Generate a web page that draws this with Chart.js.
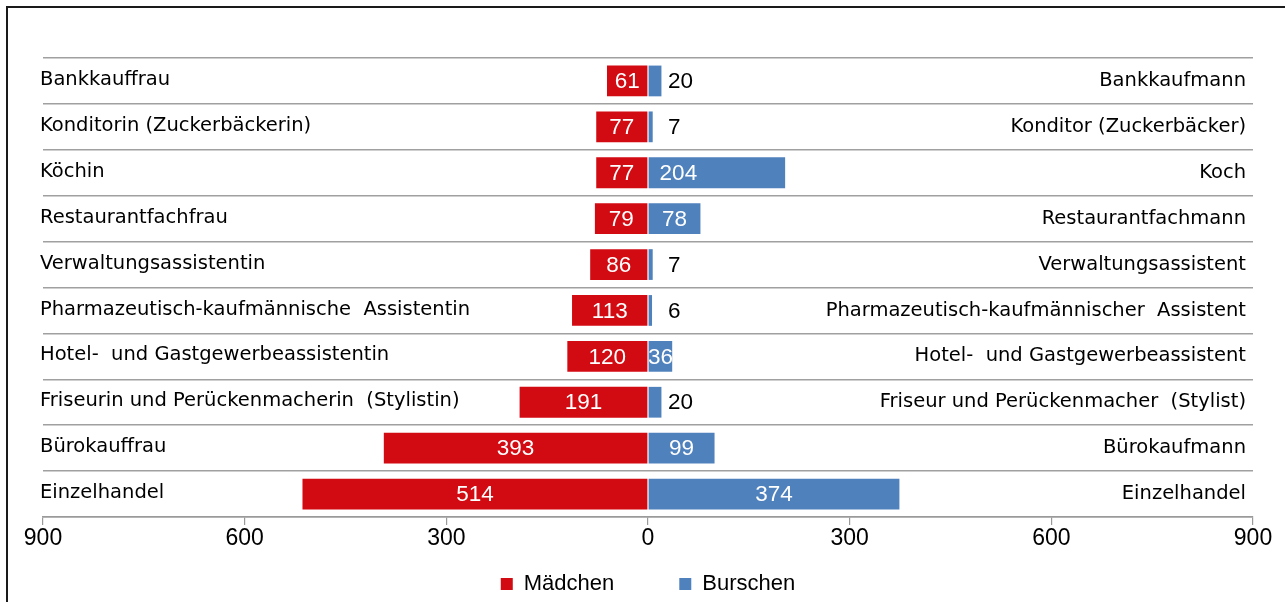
<!DOCTYPE html>
<html><head><meta charset="utf-8">
<script src="https://cdn.jsdelivr.net/npm/chart.js@4.4.0/dist/chart.umd.min.js"></script>
<style>
html,body{margin:0;padding:0;background:#fff;}
#wrap{position:relative;width:1285px;height:602px;overflow:hidden;}
#frame{position:absolute;left:6px;top:6px;width:1300px;height:620px;border-left:2px solid #1a1a1a;border-top:2px solid #1a1a1a;pointer-events:none;}
</style>
</head><body>
<div id="wrap"><canvas id="c" width="1285" height="602"></canvas><div id="frame"></div></div>
<script>
const femaleLabels = ['Bankkauffrau','Konditorin (Zuckerbäckerin)','Köchin','Restaurantfachfrau','Verwaltungsassistentin','Pharmazeutisch-kaufmännische  Assistentin','Hotel-  und Gastgewerbeassistentin','Friseurin und Perückenmacherin  (Stylistin)','Bürokauffrau','Einzelhandel'];
const maleLabels = ['Bankkaufmann','Konditor (Zuckerbäcker)','Koch','Restaurantfachmann','Verwaltungsassistent','Pharmazeutisch-kaufmännischer  Assistent','Hotel-  und Gastgewerbeassistent','Friseur und Perückenmacher  (Stylist)','Bürokaufmann','Einzelhandel'];
const femaleValues = [61,77,77,79,86,113,120,191,393,514];
const maleValues = [20,7,204,78,7,6,36,20,99,374];
const tickValues = [-900,-600,-300,0,300,600,900];
const seriesNames = ['Mädchen','Burschen'];
const seriesColors = ['#d20a12','#4f81bd'];

Chart.defaults.color = '#000';
const labelFont = "19.5px 'DejaVu Sans'";
const numFont = "22.5px 'Liberation Sans'";

const sideLabels = {
  id:'sideLabels',
  afterDatasetsDraw(chart){
    const ctx = chart.ctx, y = chart.scales.y;
    ctx.save();
    ctx.font = labelFont; ctx.fillStyle = '#000'; ctx.textBaseline = 'middle';
    femaleLabels.forEach((t,i)=>{
      const py = y.getPixelForValue(i);
      ctx.textAlign='left'; ctx.fillText(t, 40, py - 1);
      ctx.textAlign='right'; ctx.fillText(maleLabels[i], 1246, py);
    });
    const x0 = chart.scales.x.getPixelForValue(0);
    ctx.font = numFont;
    chart.data.datasets.forEach((ds,di)=>{
      const meta = chart.getDatasetMeta(di);
      meta.data.forEach((bar,j)=>{
        const v = Math.abs(ds.data[j]);
        const left = Math.min(bar.x, bar.base), right = Math.max(bar.x, bar.base);
        if (v < 30) {
          ctx.fillStyle = '#000'; ctx.textAlign = 'left';
          ctx.fillText(String(v), Math.max(right + 4, x0 + 20), bar.y + 1);
        } else {
          ctx.fillStyle = '#fff';
          if (di === 1 && v > 150 && v < 300) {
            ctx.textAlign = 'left'; ctx.fillText(String(v), left + 11, bar.y + 1);
          } else {
            ctx.textAlign = 'center'; ctx.fillText(String(v), (left+right)/2, bar.y + 1);
          }
        }
      });
    });
    ctx.restore();
  }
};

new Chart(document.getElementById('c'), {
  type:'bar',
  data:{
    labels: femaleLabels,
    datasets:[
      {label: seriesNames[0], data: femaleValues.map(v=>-v), backgroundColor: seriesColors[0], borderWidth:0, categoryPercentage:1, barPercentage:0.67},
      {label: seriesNames[1], data: maleValues, backgroundColor: seriesColors[1], borderWidth:0, categoryPercentage:1, barPercentage:0.67}
    ]
  },
  options:{
    indexAxis:'y',
    responsive:false,
    animation:false,
    layout:{padding:{left:43,right:32,top:58,bottom:-3}},
    scales:{
      x:{
        stacked:true, min:-900, max:900,
        afterBuildTicks: s => { s.ticks = tickValues.map(v=>({value:v})); },
        afterFit: s => { s.height = 46; },
        ticks:{callback: v => String(Math.abs(v)), font:{family:'Liberation Sans', size:23}, color:'#000', padding:0, maxRotation:0, autoSkip:false},
        grid:{drawOnChartArea:false, drawTicks:true, tickLength:8, color:'#9a9a9a', lineWidth:1.2},
        border:{display:true, color:'#9a9a9a', width:1.5}
      },
      y:{
        stacked:true,
        afterFit: s => { s.width = 0; },
        ticks:{display:false},
        grid:{offset:true, drawTicks:false, color:'#a0a0a0', lineWidth:1.5},
        border:{display:false}
      }
    },
    plugins:{
      legend:{
        position:'bottom',
        labels:{
          font:{family:'Liberation Sans', size:22}, color:'#000', boxWidth:12, boxHeight:12, padding:10,
          generateLabels: chart => Chart.defaults.plugins.legend.labels.generateLabels(chart).map((l,i)=>{
            if (i===0) l.text = l.text + '\u00a0'.repeat(9);
            return l;
          })
        }
      },
      tooltip:{enabled:false}
    }
  },
  plugins:[sideLabels]
});
</script>
</body></html>
